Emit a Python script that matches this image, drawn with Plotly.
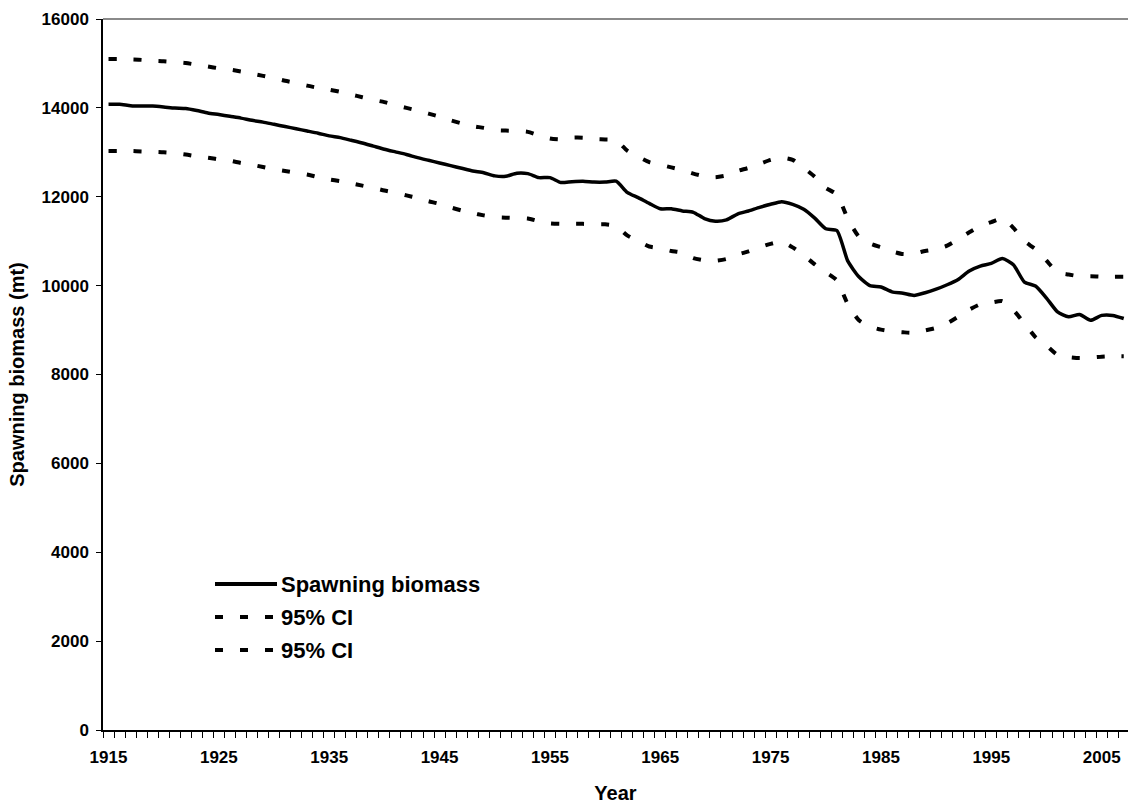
import plotly.graph_objects as go

years = list(range(1915, 2008))

spawning_biomass = [
    14080, 14080, 14050, 14040, 14040, 14020, 13995, 13985, 13940, 13885,
    13850, 13810, 13770, 13720, 13680, 13630, 13580, 13530, 13480, 13430,
    13370, 13330, 13270, 13210, 13140, 13070, 13010, 12950, 12880, 12820,
    12760, 12700, 12640, 12580, 12540, 12470, 12460, 12530, 12520, 12430,
    12430, 12320, 12340, 12350, 12330, 12330, 12350, 12100, 11980, 11850,
    11730, 11730, 11680, 11650, 11510, 11450, 11480, 11610, 11680, 11760,
    11830, 11890, 11830, 11720, 11520, 11280, 11240, 10550, 10200, 10000,
    9970, 9860, 9830, 9780, 9840, 9920, 10020, 10140, 10330, 10440,
    10500, 10610, 10470, 10080, 9990, 9720, 9410, 9300, 9350, 9220,
    9330, 9330, 9260,
]

ci_upper = [
    15100, 15100, 15090, 15080, 15060, 15050, 15030, 15010, 14970, 14930,
    14890, 14860, 14820, 14770, 14720, 14670, 14610, 14560, 14500, 14450,
    14410, 14360, 14300, 14240, 14180, 14130, 14060, 14000, 13940, 13870,
    13800, 13720, 13650, 13590, 13550, 13500, 13490, 13480, 13460, 13380,
    13310, 13290, 13330, 13330, 13300, 13290, 13270, 13040, 12900, 12780,
    12720, 12660, 12600, 12520, 12460, 12440, 12480, 12580, 12650, 12740,
    12830, 12880, 12830, 12650, 12450, 12200, 12050, 11500, 11100, 10950,
    10860, 10770, 10710, 10720, 10780, 10820, 10900, 11040, 11200, 11340,
    11430, 11510, 11300, 11000, 10820, 10560, 10300, 10250, 10210, 10210,
    10200, 10200, 10200,
]

ci_lower = [
    13030, 13030, 13030, 13020, 13010, 13000, 12980, 12950, 12910, 12880,
    12840, 12810, 12760, 12720, 12670, 12620, 12580, 12540, 12500, 12440,
    12390, 12350, 12300, 12250, 12200, 12140, 12090, 12030, 11970, 11900,
    11840, 11760, 11690, 11630, 11580, 11540, 11530, 11520, 11510, 11450,
    11400, 11390, 11390, 11390, 11380, 11380, 11340, 11130, 11000, 10880,
    10840, 10780, 10740, 10620, 10570, 10560, 10600, 10700, 10770, 10860,
    10940, 10990, 10860, 10680, 10480, 10300, 10120, 9580, 9220, 9080,
    9010, 8970, 8950, 8940, 8990, 9050, 9150, 9300, 9460, 9580,
    9620, 9650, 9450, 9150, 8840, 8650, 8440, 8390, 8370, 8380,
    8400, 8410, 8410,
]

x_tick_labels = [str(y) for y in range(1915, 2006, 10)]
x_tick_vals = list(range(1915, 2006, 10))

FONT = "Liberation Sans, Arial, sans-serif"
DASH = "8px,17px"

W, H = 1128, 804
ml, mr, mt, mb = 103, 0, 19, 74
pw = W - ml - mr
ph = H - mt - mb
px_per_year = 11.035

fig = go.Figure()
fig.add_trace(go.Scatter(x=years, y=ci_upper, mode="lines", name="95% CI",
                         line=dict(color="black", width=4, dash=DASH, shape="spline", smoothing=0.6),
                         showlegend=False))
fig.add_trace(go.Scatter(x=years, y=ci_lower, mode="lines", name="95% CI",
                         line=dict(color="black", width=4, dash=DASH, shape="spline", smoothing=0.6),
                         showlegend=False))
fig.add_trace(go.Scatter(x=years, y=spawning_biomass, mode="lines", name="Spawning biomass",
                         line=dict(color="black", width=3.5, shape="spline", smoothing=0.6),
                         showlegend=False))

# custom legend (line samples + text), positions in page pixels
legend_rows = [("Spawning biomass", "solid", 584), ("95% CI", DASH, 617), ("95% CI", DASH, 650)]
for text, dash, ypage in legend_rows:
    yp = (H - mb - ypage) / ph
    x0 = (215 - ml) / pw
    x1 = (277 - ml) / pw
    fig.add_shape(type="line", xref="paper", yref="paper", x0=x0, x1=x1, y0=yp, y1=yp,
                  line=dict(color="black", width=4, dash=dash))
    fig.add_annotation(xref="paper", yref="paper", x=(279 - ml) / pw, y=yp, text=text,
                       showarrow=False, xanchor="left", yanchor="middle",
                       font=dict(family=FONT, size=22, color="black", weight="bold"))

# gray top border of plot area
fig.add_shape(type="line", xref="paper", yref="paper", x0=0, x1=1, y0=1, y1=1,
              line=dict(color="#8a8a8a", width=2))

fig.update_layout(
    width=W, height=H,
    margin=dict(l=ml, r=mr, t=mt, b=mb, pad=0),
    paper_bgcolor="white", plot_bgcolor="white",
    font=dict(family=FONT, color="black"),
    xaxis=dict(
        range=[1914.5, 1914.5 + pw / px_per_year],
        tickmode="array", tickvals=x_tick_vals, ticktext=x_tick_labels,
        ticks="", ticklabelstandoff=11,
        tickfont=dict(family=FONT, size=17, color="black", weight="bold"),
        minor=dict(tick0=1914.5, dtick=1, ticks="outside", ticklen=6, tickcolor="black", tickwidth=1.3, showgrid=False),
        showline=True, linecolor="black", linewidth=1.5,
        showgrid=False, zeroline=False,
        title=dict(text="Year", font=dict(family=FONT, size=20, color="black", weight="bold"), standoff=31),
        automargin=False,
    ),
    yaxis=dict(
        range=[0, 16000], dtick=2000, tick0=0, tickformat="d",
        ticks="outside", ticklen=5, tickcolor="black", tickwidth=1.3,
        ticklabelstandoff=4,
        tickfont=dict(family=FONT, size=17, color="black", weight="bold"),
        showline=True, linecolor="black", linewidth=1.5,
        showgrid=False, zeroline=False,
        title=dict(text="Spawning biomass (mt)", font=dict(family=FONT, size=20, color="black", weight="bold"), standoff=12),
        automargin=False,
    ),
)

fig.write_html("out.html",
               config={"displayModeBar": False},
               post_script="document.body.style.margin='0';document.body.style.overflow='hidden';")
